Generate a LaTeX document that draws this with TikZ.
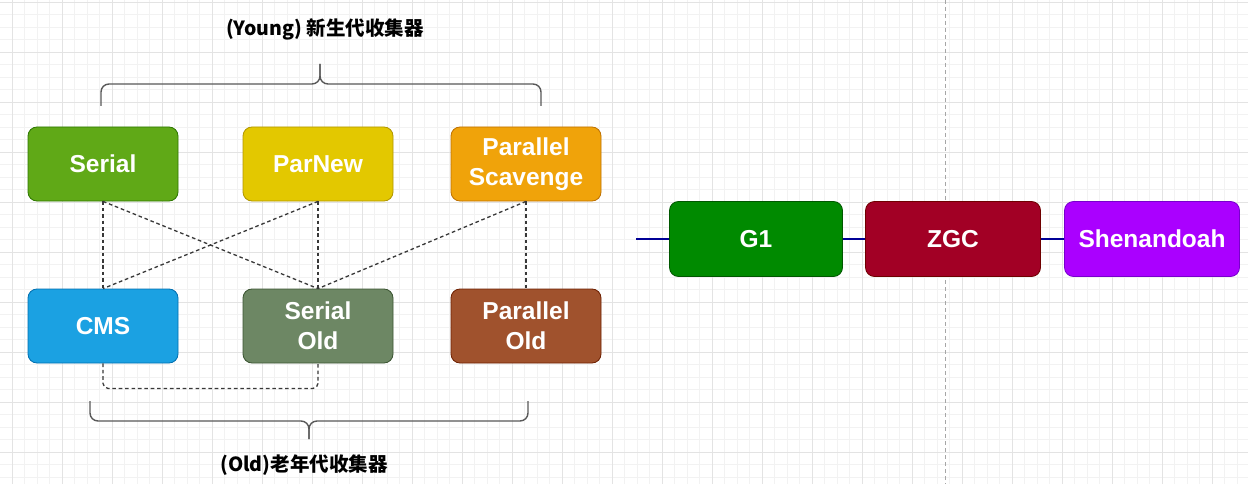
\documentclass[tikz,border=0pt]{standalone}
\usepackage{fontspec}
\setmainfont{Liberation Sans}
\newfontfamily\cjk{Noto Sans CJK SC}
\usepackage{tikz}
\usetikzlibrary{positioning,calc}
\definecolor{serialc}{HTML}{60A917}
\definecolor{serialb}{HTML}{2D7600}
\definecolor{parnewc}{HTML}{E3C800}
\definecolor{parnewb}{HTML}{B09500}
\definecolor{scavc}{HTML}{F0A30A}
\definecolor{scavb}{HTML}{BD7000}
\definecolor{cmsc}{HTML}{1BA1E2}
\definecolor{cmsb}{HTML}{006EAF}
\definecolor{soldc}{HTML}{6D8764}
\definecolor{soldb}{HTML}{3A5431}
\definecolor{poldc}{HTML}{A0522D}
\definecolor{poldb}{HTML}{6D1F00}
\definecolor{gonec}{HTML}{008A00}
\definecolor{goneb}{HTML}{005700}
\definecolor{zgcc}{HTML}{A20025}
\definecolor{zgcb}{HTML}{6F0000}
\definecolor{shenc}{HTML}{AA00FF}
\definecolor{shenb}{HTML}{7700CC}
\definecolor{navyln}{RGB}{0,0,150}
\tikzset{
  gcbox/.style={draw, rounded corners=9pt, minimum width=150pt, minimum height=74pt,
    text=white, align=center, line width=0.8pt,
    font=\fontsize{24.5}{30}\selectfont\bfseries},
  gc/.style 2 args={gcbox, fill=#1, draw=#2},
  link/.style={dash pattern=on 3.6pt off 2.8pt, line width=1.3pt, black!78},
  braceln/.style={line width=1.4pt, black!65, rounded corners=8pt},
  chainln/.style={line width=1.8pt, navyln},
  grouplbl/.style={font=\cjk\bfseries\fontsize{19.5}{23}\selectfont},
}

\begin{document}
\begin{tikzpicture}[x=1pt, y=-1pt]
    \useasboundingbox (0,0) rectangle (1248,484);
    % background grid
    \fill[white] (0,0) rectangle (1248,484);
    \draw[black!5, line width=0.6pt, shift={(12,2)}, step=12.5pt] (-12,-2) grid (1236,482);
    \draw[black!11, line width=0.7pt, shift={(12,2)}, step=50pt] (-12,-2) grid (1236,482);
    \draw[black!35, line width=0.9pt, dash pattern=on 4pt off 3pt] (945,0) -- (945,484);
    % young generation
    \node[gc={serialc}{serialb}] (serial) at (103,164) {Serial};
    \node[gc={parnewc}{parnewb}] (parnew) at (318,164) {ParNew};
    \node[gc={scavc}{scavb}] (scavenge) at (526,164) {Parallel\\Scavenge};
    % old generation
    \node[gc={cmsc}{cmsb}] (cms) at (103,326) {CMS};
    \node[gc={soldc}{soldb}] (serialold) at (318,326) {Serial\\Old};
    \node[gc={poldc}{poldb}] (parold) at (526,326) {Parallel\\Old};
    % combinations
    \draw[link] (serial.south) -- (cms.north);
    \draw[link] (serial.south) -- (serialold.north);
    \draw[link] (parnew.south) -- (cms.north);
    \draw[link] (parnew.south) -- (serialold.north);
    \draw[link] (scavenge.south) -- (serialold.north);
    \draw[link] (scavenge.south) -- (parold.north);
    \draw[link, rounded corners=5pt] (cms.south) -- ++(0,25) -| (serialold.south);
    % braces
    \coordinate (ytip) at (320,64);
    \draw[braceln] (101,106) -- (101,84) -- (320,84) -- (ytip);
    \draw[braceln] (541,106) -- (541,84) -- (320,84) -- (ytip);
    \node[grouplbl] (younglbl) at (325,29) {(Young) 新生代收集器};
    \coordinate (otip) at (309,439);
    \draw[braceln] (90,401) -- (90,421) -- (309,421) -- (otip);
    \draw[braceln] (528,401) -- (528,421) -- (309,421) -- (otip);
    \node[grouplbl] (oldlbl) at (304,465) {(Old)老年代收集器};
    % region based collectors
    \coordinate (chainstart) at (636,239);
    \node[gc={gonec}{goneb}, minimum width=173pt, minimum height=75pt] (g1) at (756,239) {G1};
    \node[gc={zgcc}{zgcb}, minimum width=175pt, minimum height=75pt] (zgc) at (953,239) {ZGC};
    \node[gc={shenc}{shenb}, minimum width=175pt, minimum height=75pt] (shen) at (1152,239) {Shenandoah};
    \draw[chainln] (chainstart) -- (g1.west);
    \draw[chainln] (g1.east) -- (zgc.west);
    \draw[chainln] (zgc.east) -- (shen.west);
\end{tikzpicture}
\end{document}
